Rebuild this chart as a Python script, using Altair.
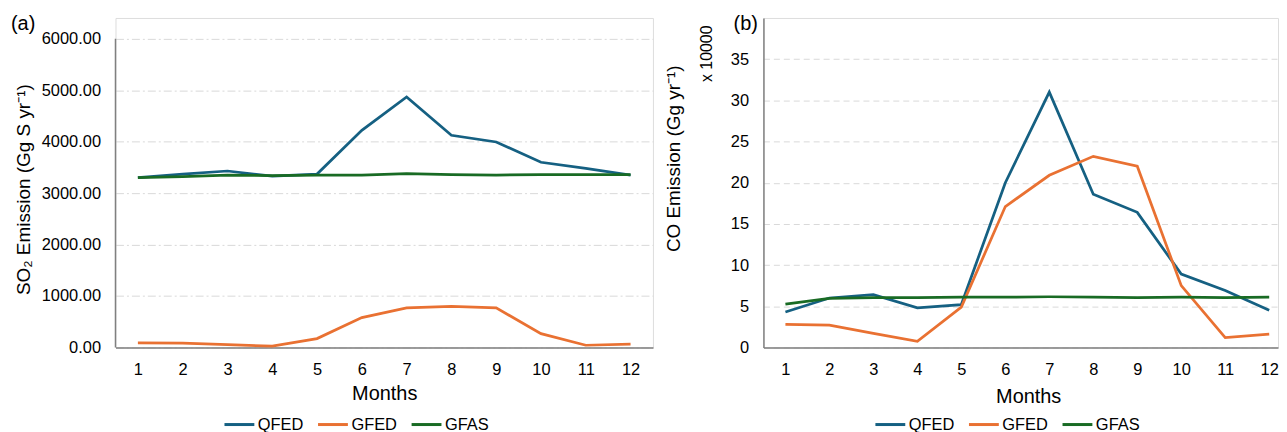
import altair as alt
import pandas as pd

months = list(range(1, 13))
series = ["QFED", "GFED", "GFAS"]
colors = ["#156082", "#E97132", "#196B24"]

so2_qfed = [3300, 3370, 3430, 3330, 3370, 4220, 4870, 4125, 3995, 3600, 3480, 3350]
so2_gfed = [88, 85, 55, 23, 172, 580, 768, 800, 768, 268, 42, 62]
so2_gfas = [3300, 3320, 3350, 3340, 3350, 3350, 3380, 3360, 3350, 3360, 3360, 3360]

co_qfed = [4.3, 6.0, 6.4, 4.8, 5.2, 20.0, 31.0, 18.6, 16.4, 8.9, 6.9, 4.5]
co_gfed = [2.8, 2.7, 1.7, 0.75, 4.9, 17.1, 20.9, 23.2, 22.0, 7.5, 1.2, 1.6]
co_gfas = [5.25, 5.95, 6.05, 6.05, 6.1, 6.1, 6.15, 6.1, 6.05, 6.1, 6.05, 6.1]

so2_ticks = [0, 1000, 2000, 3000, 4000, 5000, 6000]
co_ticks = [0, 5, 10, 15, 20, 25, 30, 35]


def long(vals):
    rows = []
    for s, v in zip(series, vals):
        for m, y in zip(months, v):
            rows.append({"month": m, "series": s, "value": y})
    return pd.DataFrame(rows)


df_a = long([so2_qfed, so2_gfed, so2_gfas])
df_b = long([co_qfed, co_gfed, co_gfas])

FONT = "Liberation Sans"
H = 331
AXC = "#808080"


def color_enc(lx):
    return alt.Color(
        "series:N",
        scale=alt.Scale(domain=series, range=colors),
        sort=series,
        legend=alt.Legend(
            orient="none", legendX=lx, legendY=392, direction="horizontal",
            title=None, symbolType="stroke", symbolSize=900, symbolStrokeWidth=3,
            labelFontSize=16.5, labelFont=FONT, labelColor="#000", labelOffset=2,
            columnPadding=8,
        ),
    )


def x_enc(dmax, title_x, title_y):
    return alt.X(
        "month:Q",
        scale=alt.Scale(domain=[0.5, dmax], nice=False, zero=False),
        axis=alt.Axis(
            values=months, format="d", grid=False, ticks=False, labelPadding=14,
            labelFontSize=16.5, labelFont=FONT, labelColor="#000", labelFlush=False,
            title="Months", titleFont=FONT, titleFontSize=20, titleFontWeight="normal",
            titleColor="#000", titleX=title_x, titleY=title_y, titleBaseline="alphabetic",
            domainColor=AXC, domainWidth=1.5,
        ),
    )


# Panel (a)
ya = alt.Y(
    "value:Q",
    scale=alt.Scale(domain=[0, 6406], nice=False),
    axis=alt.Axis(
        values=so2_ticks, format=".2f", domain=False, ticks=False, grid=True,
        gridColor="#d9d9d9", gridDash=[8, 3, 2, 3], gridWidth=1,
        labelPadding=15, labelFontSize=16.5, labelFont=FONT, labelColor="#000",
        title="SO₂ Emission (Gg S yr⁻¹)", titleFont=FONT, titleFontSize=19,
        titleFontWeight="normal", titleColor="#000", titleX=-86, titleY=172,
        titleBaseline="alphabetic",
    ),
)

lines_a = alt.Chart(df_a).mark_line(strokeWidth=2.75).encode(
    x=x_enc(12.5, 270, 52), y=ya, color=color_enc(108)
)
rule_a = alt.Chart(pd.DataFrame({"lo": [0], "hi": [6000]})).mark_rule(
    color=AXC, strokeWidth=1.5
).encode(x=alt.value(0), y="hi:Q", y2="lo:Q")
lab_a = alt.Chart(pd.DataFrame({"t": ["(a)"]})).mark_text(
    font=FONT, fontSize=20, align="left", baseline="top", color="#000"
).encode(text="t:N", x=alt.value(-105), y=alt.value(-4))

panel_a = alt.layer(lines_a, rule_a, lab_a).properties(width=540, height=H)

# Panel (b)
yb = alt.Y(
    "value:Q",
    scale=alt.Scale(domain=[0, 40], nice=False),
    axis=alt.Axis(
        values=co_ticks, format="d", domain=True, domainColor=AXC, domainWidth=1.5,
        ticks=False, grid=True, gridColor="#d9d9d9", gridDash=[6, 4], gridWidth=1,
        labelPadding=15, labelFontSize=16.5, labelFont=FONT, labelColor="#000",
        title="CO Emission (Gg yr⁻¹)", titleFont=FONT, titleFontSize=19,
        titleFontWeight="normal", titleColor="#000", titleX=-84, titleY=141,
        titleBaseline="alphabetic",
    ),
)

lines_b = alt.Chart(df_b).mark_line(strokeWidth=2.75).encode(
    x=x_enc(12.2, 266, 55), y=yb, color=color_enc(111)
)
lab_b = alt.Chart(pd.DataFrame({"t": ["(b)"]})).mark_text(
    font=FONT, fontSize=20, align="left", baseline="top", color="#000"
).encode(text="t:N", x=alt.value(-30), y=alt.value(-4))
unit_b = alt.Chart(pd.DataFrame({"t": ["x 10000"]})).mark_text(
    font=FONT, fontSize=16, align="center", baseline="alphabetic", angle=270, color="#000"
).encode(text="t:N", x=alt.value(-52), y=alt.value(36))

panel_b = alt.layer(lines_b, lab_b, unit_b).properties(width=517, height=H)

chart = (
    alt.hconcat(panel_a, panel_b, spacing=10)
    .resolve_scale(y="independent", x="independent", color="independent")
    .resolve_legend(color="independent")
    .properties(padding={"left": 2, "top": 4, "right": 0, "bottom": 0})
    .configure_view(stroke=None)
    .configure(font=FONT)
)

chart.save("out.html", embed_options={"renderer": "svg", "actions": False})
